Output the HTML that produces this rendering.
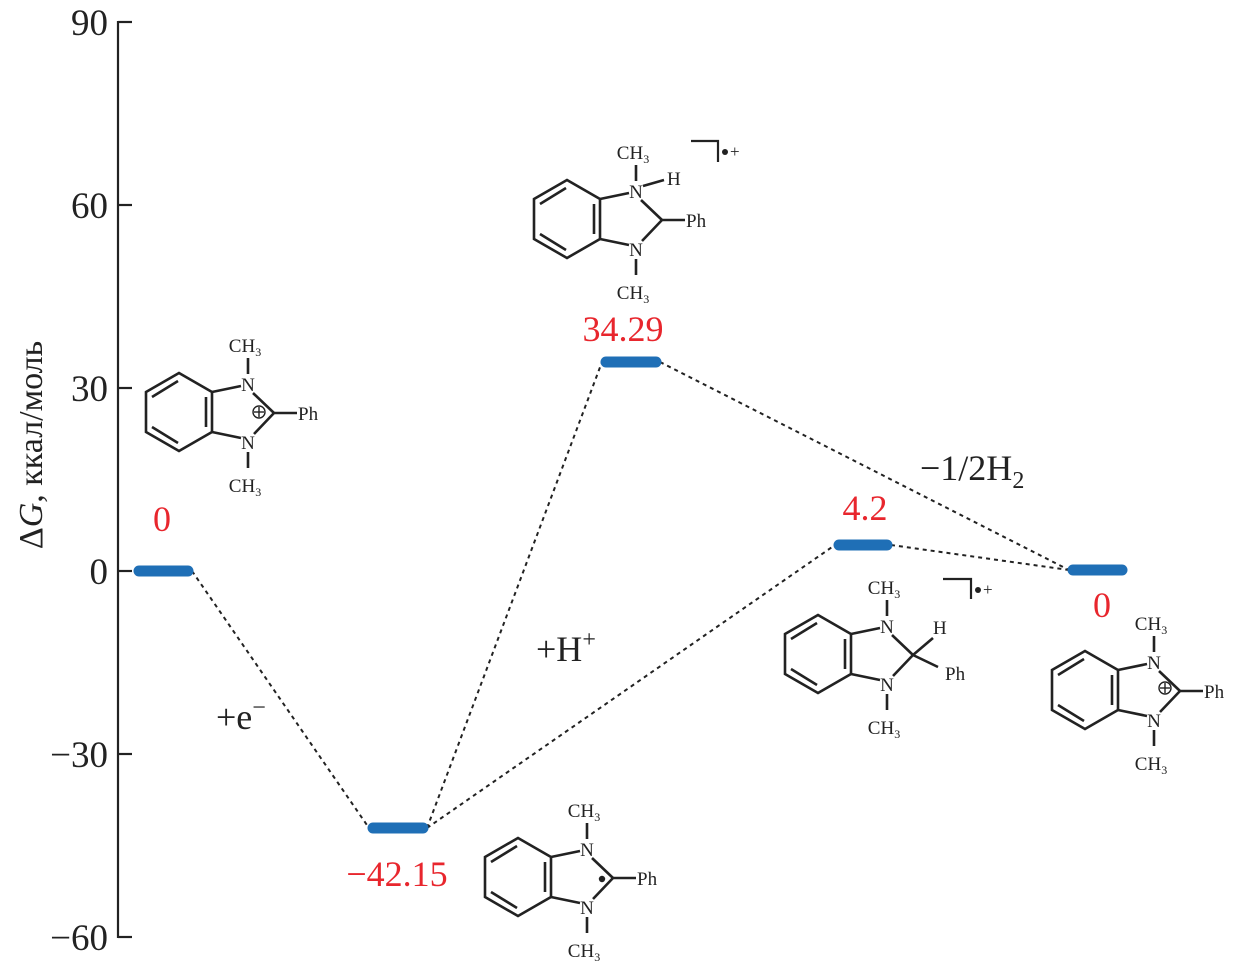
<!DOCTYPE html>
<html><head><meta charset="utf-8"><style>
body{margin:0;background:#fff;}
svg{display:block;}
text{font-family:"Liberation Serif",serif;}
</style></head><body>
<svg width="1239" height="966" viewBox="0 0 1239 966" xmlns="http://www.w3.org/2000/svg">
<defs>
<g id="core" stroke="#222" stroke-width="2.6" fill="none">
<polygon points="-33,-20 0,-39 33,-20 33,20 0,39 -33,20"/>
<line x1="-27" y1="-15" x2="-1" y2="-31"/>
<line x1="27" y1="-15" x2="27" y2="15"/>
<line x1="-27" y1="15" x2="-1" y2="31"/>
<line x1="33" y1="-20" x2="62" y2="-26"/>
<line x1="33" y1="20" x2="62" y2="26"/>
<line x1="74" y1="-19" x2="95" y2="1"/>
<line x1="95" y1="1" x2="75" y2="22"/>
<line x1="69" y1="-38" x2="69" y2="-54"/>
<line x1="69" y1="40" x2="69" y2="56"/>
</g>
<g id="lab" font-size="19" fill="#222" text-anchor="middle">
<text x="69" y="-21">N</text>
<text x="69" y="37">N</text>
<text x="66" y="-60">CH<tspan font-size="12" dy="4">3</tspan></text>
<text x="66" y="80">CH<tspan font-size="12" dy="4">3</tspan></text>
</g>
</defs>

<g stroke="#222" stroke-width="2.2">
<line x1="118" y1="21" x2="118" y2="938"/>
<line x1="118" y1="22" x2="132" y2="22"/>
<line x1="118" y1="205" x2="132" y2="205"/>
<line x1="118" y1="388" x2="132" y2="388"/>
<line x1="118" y1="571" x2="132" y2="571"/>
<line x1="118" y1="754" x2="132" y2="754"/>
<line x1="118" y1="937" x2="132" y2="937"/>
</g>
<g font-size="37" fill="#222" text-anchor="end">
<text x="108" y="35">90</text>
<text x="108" y="218">60</text>
<text x="108" y="401">30</text>
<text x="108" y="584">0</text>
<text x="108" y="767">−30</text>
<text x="108" y="950">−60</text>
</g>
<text transform="translate(42,445) rotate(-90)" font-size="34" fill="#222" text-anchor="middle">Δ<tspan font-style="italic">G</tspan>, ккал/моль</text>

<g stroke="#222" stroke-width="2" stroke-dasharray="4,4" fill="none">
<line x1="192" y1="571" x2="369" y2="828"/>
<line x1="427" y1="828" x2="602" y2="362"/>
<line x1="427" y1="828" x2="835" y2="545"/>
<line x1="660" y1="362" x2="1069" y2="570"/>
<line x1="891" y1="545" x2="1069" y2="570"/>
</g>
<g stroke="#1f6fb6" stroke-width="11" stroke-linecap="round">
<line x1="139" y1="571" x2="188" y2="571"/>
<line x1="373" y1="828" x2="423" y2="828"/>
<line x1="606" y1="362" x2="656" y2="362"/>
<line x1="839" y1="545" x2="887" y2="545"/>
<line x1="1073" y1="570" x2="1122" y2="570"/>
</g>
<g font-size="36" fill="#e8262d" text-anchor="middle">
<text x="162" y="531">0</text>
<text x="397" y="886">−42.15</text>
<text x="623" y="341">34.29</text>
<text x="865" y="520">4.2</text>
<text x="1102" y="617">0</text>
</g>
<g font-size="36" fill="#222">
<text x="216" y="729">+e<tspan font-size="24" dy="-14">−</tspan></text>
<text x="536" y="661">+H<tspan font-size="24" dy="-14">+</tspan></text>
<text x="920" y="480">−1/2H<tspan font-size="24" dy="8">2</tspan></text>
</g>

<g transform="translate(179,412)">
<use href="#core"/><use href="#lab"/>
<line x1="95" y1="1" x2="118" y2="1" stroke="#222" stroke-width="2.6"/>
<text x="119" y="8" font-size="19" fill="#222">Ph</text>
<circle cx="80" cy="0" r="6" fill="none" stroke="#222" stroke-width="1.4"/>
<line x1="75" y1="0" x2="85" y2="0" stroke="#222" stroke-width="1.4"/>
<line x1="80" y1="-5" x2="80" y2="5" stroke="#222" stroke-width="1.4"/>
</g>
<g transform="translate(567,219)">
<use href="#core"/><use href="#lab"/>
<line x1="95" y1="1" x2="118" y2="1" stroke="#222" stroke-width="2.6"/>
<text x="119" y="8" font-size="19" fill="#222">Ph</text>
<line x1="76" y1="-33" x2="97" y2="-39" stroke="#222" stroke-width="2.6"/>
<text x="100" y="-34" font-size="19" fill="#222">H</text>
<polyline points="124,-78 151,-78 151,-57" fill="none" stroke="#222" stroke-width="2.2"/>
<circle cx="158" cy="-67" r="3" fill="#222"/>
<text x="163" y="-62" font-size="17" fill="#222">+</text>
</g>
<g transform="translate(818,654)">
<use href="#core"/><use href="#lab"/>
<line x1="95" y1="1" x2="115" y2="-16" stroke="#222" stroke-width="2.6"/>
<text x="115" y="-20" font-size="19" fill="#222">H</text>
<line x1="95" y1="1" x2="120" y2="13" stroke="#222" stroke-width="2.6"/>
<text x="127" y="26" font-size="19" fill="#222">Ph</text>
<polyline points="125,-75 153,-75 153,-55" fill="none" stroke="#222" stroke-width="2.2"/>
<circle cx="160" cy="-64" r="3" fill="#222"/>
<text x="165" y="-59" font-size="17" fill="#222">+</text>
</g>
<g transform="translate(1085,690)">
<use href="#core"/><use href="#lab"/>
<line x1="95" y1="1" x2="118" y2="1" stroke="#222" stroke-width="2.6"/>
<text x="119" y="8" font-size="19" fill="#222">Ph</text>
<circle cx="80" cy="-2" r="6" fill="none" stroke="#222" stroke-width="1.4"/>
<line x1="75" y1="-2" x2="85" y2="-2" stroke="#222" stroke-width="1.4"/>
<line x1="80" y1="-7" x2="80" y2="3" stroke="#222" stroke-width="1.4"/>
</g>
<g transform="translate(518,877)">
<use href="#core"/><use href="#lab"/>
<line x1="95" y1="1" x2="118" y2="1" stroke="#222" stroke-width="2.6"/>
<text x="119" y="8" font-size="19" fill="#222">Ph</text>
<circle cx="84" cy="2" r="3.2" fill="#222"/>
</g>
</svg>
</body></html>
